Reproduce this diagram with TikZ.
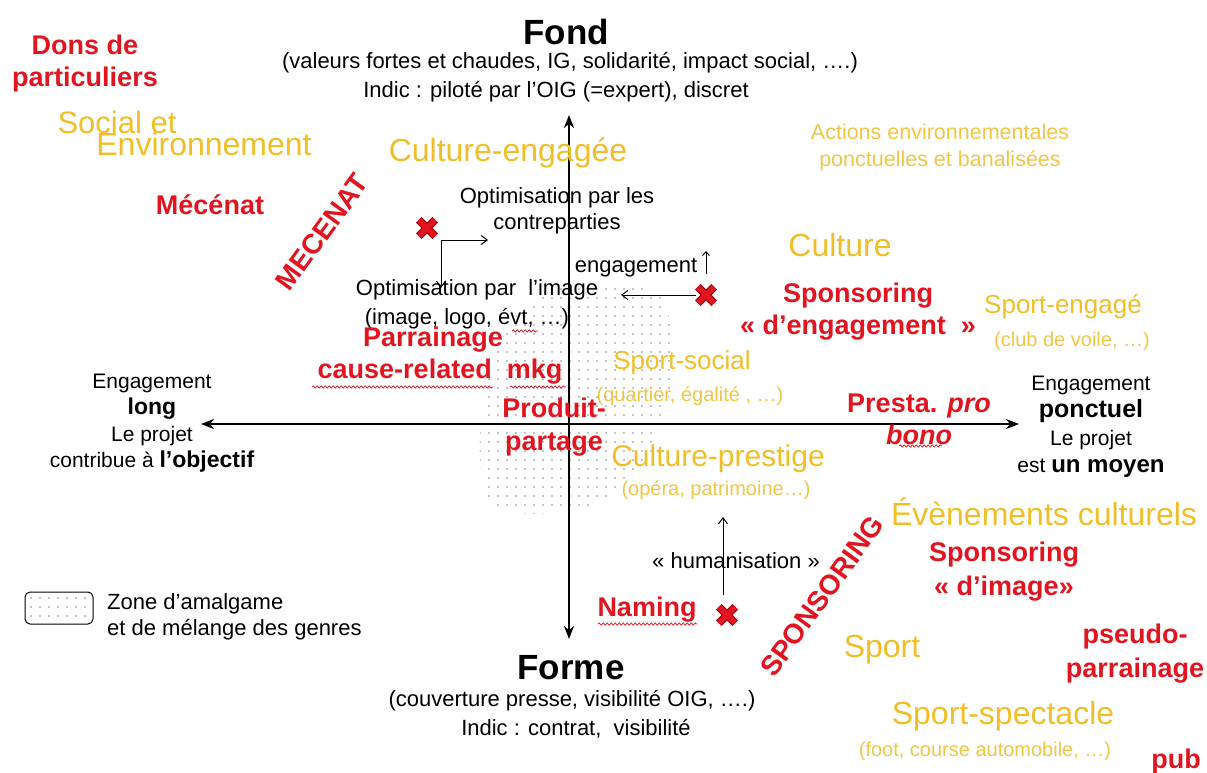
\documentclass[tikz,border=0pt]{standalone}
\usepackage{fontspec}
\setmainfont{Liberation Sans}
\usetikzlibrary{arrows.meta,decorations.pathmorphing}
\definecolor{rd}{RGB}{226,20,32}
\definecolor{xdark}{RGB}{160,10,20}
\definecolor{gd}{RGB}{240,190,40}
\definecolor{gdl}{RGB}{240,198,70}
\definecolor{dotc}{RGB}{135,135,135}
\begin{document}
\begin{tikzpicture}[x=1pt,y=-1pt,
  blk/.style={text=black, font=\fontsize{22}{26}\selectfont, align=center, inner sep=0pt},
  bigblk/.style={text=black, font=\bfseries\fontsize{35}{38}\selectfont, inner sep=0pt},
  rdt/.style={text=rd, font=\bfseries\fontsize{27}{32}\selectfont, align=center, inner sep=0pt},
  gdt/.style={text=gd, font=\fontsize{32}{36}\selectfont, inner sep=0pt},
  gdm/.style={text=gd, font=\fontsize{26}{30}\selectfont, inner sep=0pt},
  gds/.style={text=gdl, font=\fontsize{20}{27}\selectfont, align=center, inner sep=0pt},
  axis/.style={line width=2.6pt, {Stealth[length=13pt,width=10pt]}-{Stealth[length=13pt,width=10pt]}},
  thinarrow/.style={line width=1pt, -{Straight Barb[length=6pt,width=9pt]}},
  xbox/.style={rectangle, minimum size=16pt, inner sep=0pt},
  xout/.style={line width=8pt, xdark},
  xin/.style={line width=5.5pt, rd},
  wavy/.style={rd, line width=0.7pt, decorate, decoration={snake, amplitude=1.1pt, segment length=4pt}}
]
\useasboundingbox (0,0) rectangle (1207,773);

% ---- dotted zone
\begin{scope}
  \clip plot[smooth cycle] coordinates {(600,282) (662,298) (672,380) (645,462) (585,508) (492,506) (481,420) (505,330) (555,290)};
  \foreach \x in {480,489,...,680} {
    \foreach \y in {280,289,...,515} {
      \fill[dotc] (\x,\y) circle[radius=0.9];
    }
  }
\end{scope}

% ---- axes
\coordinate (vt) at (569,115);
\coordinate (vb) at (569,639);
\coordinate (hl) at (201,424);
\coordinate (hr) at (1019,424);
\draw[axis] (vb) -- (vt);
\draw[axis] (hl) -- (hr);

% ---- top / bottom titles
\node[bigblk] (fond) at (566,32) {Fond};
\node[blk] (fond1) at (570,63) {(valeurs fortes et chaudes, IG, solidarité, impact social, ….)};
\node[blk] (fond2) at (556,92) {Indic : piloté par l’OIG (=expert), discret};
\node[bigblk] (forme) at (571,668) {Forme};
\node[blk] (forme1) at (572,701) {(couverture presse, visibilité OIG, ….)};
\node[blk] (forme2) at (576,729) {Indic : contrat,\ \ visibilité};

% ---- side labels
\node[blk, font=\fontsize{21}{26.5}\selectfont] (left) at (152,423) {Engagement\\{\bfseries\fontsize{23}{26}\selectfont long}\\Le projet\\contribue à {\bfseries\fontsize{23}{26}\selectfont l’objectif}};
\node[blk, font=\fontsize{21}{27.5}\selectfont] (right) at (1091,427) {Engagement\\{\bfseries\fontsize{25}{27}\selectfont ponctuel}\\Le projet\\est {\bfseries\fontsize{24}{27}\selectfont un moyen}};

% ---- top-left quadrant
\node[rdt] (dons) at (85,64) {Dons de\\particuliers};
\node[gdt, font=\fontsize{31}{36}\selectfont] (soc) at (117,122) {Social et};
\node[gdt] (env) at (204,144) {Environnement};
\node[rdt] (mecenat) at (210,205) {Mécénat};
\node[rdt, font=\bfseries\fontsize{28}{32}\selectfont, rotate=54] (MEC) at (322,232) {MECENAT};
\node[gdt] (cengagee) at (508,153) {Culture-engagée};
\node[blk] (optc) at (557,211) {Optimisation par les\\contreparties};
\node[blk] (opti1) at (477,290) {Optimisation par\ \ l’image};
\node[blk] (opti2) at (467,319) {(image, logo, évt, …)};
\node[rdt] (parr) at (433,340) {Parrainage};
\node[rdt] (crm) at (440,372) {cause-related\ \ mkg};
\node[rdt, font=\bfseries\fontsize{27}{33}\selectfont] (prod) at (554,427) {Produit-\\partage};

% cross 1 with arrows
\node[xbox] (x1) at (427,228) {};
\draw[xout] (x1.north west) -- (x1.south east) (x1.north east) -- (x1.south west);
\draw[xin] (x1.north west) -- (x1.south east) (x1.north east) -- (x1.south west);
\coordinate (c1) at (441,240);
\coordinate (c1r) at (488,240);
\coordinate (c1d) at (441,288);
\draw[thinarrow] (c1) -- (c1r);
\draw[thinarrow] (c1) -- (c1d);

% ---- top-right quadrant
\node[gds, font=\fontsize{21.5}{27}\selectfont] (actions) at (940,147) {Actions environnementales\\ponctuelles et banalisées};
\node[gdt] (culture) at (840,245) {Culture};
\node[rdt] (spengage) at (858,312) {Sponsoring\\« d’engagement\ \ »};
\node[gdm] (sportengage) at (1063,307) {Sport-engagé};
\node[gds] (club) at (1072,341) {(club de voile, …)};
\node[blk] (engag) at (636,268) {engagement};
\node[xbox] (x2) at (706,295) {};
\draw[xout] (x2.north west) -- (x2.south east) (x2.north east) -- (x2.south west);
\draw[xin] (x2.north west) -- (x2.south east) (x2.north east) -- (x2.south west);
\coordinate (c2) at (696,295);
\coordinate (c2l) at (621,295);
\draw[thinarrow] (c2) -- (c2l);
\coordinate (u1) at (706,274);
\coordinate (u2) at (706,251);
\draw[line width=0.9pt, -{Straight Barb[length=4pt,width=7pt]}] (u1) -- (u2);
\node[gdm] (sportsocial) at (682,363) {Sport-social};
\node[gds] (quartier) at (690,396) {(quartier, égalité , …)};
\node[rdt] (presta) at (919,419) {Presta. \textit{pro}\\\textit{bono}};

% ---- bottom-right quadrant
\node[gdt, font=\fontsize{30}{34}\selectfont] (cprestige) at (718,459) {Culture-prestige};
\node[gds] (opera) at (716,490) {(opéra, patrimoine…)};
\node[gdt] (evts) at (1044,512) {Évènements culturels};
\node[rdt, font=\bfseries\fontsize{28}{32}\selectfont, rotate=54] (SPO) at (822,596) {SPONSORING};
\node[rdt, font=\bfseries\fontsize{27}{34}\selectfont] (spimage) at (1004,572) {Sponsoring\\« d’image»};
\node[blk] (human) at (736,561) {« humanisation »};
\coordinate (h1) at (723,595);
\coordinate (h2) at (723,517);
\draw[thinarrow] (h1) -- (h2);
\node[rdt] (naming) at (647,610) {Naming};
\node[xbox] (x3) at (727,615) {};
\draw[xout] (x3.north west) -- (x3.south east) (x3.north east) -- (x3.south west);
\draw[xin] (x3.north west) -- (x3.south east) (x3.north east) -- (x3.south west);
\node[gdt] (sport) at (882,650) {Sport};
\node[rdt, font=\bfseries\fontsize{27}{34}\selectfont] (pseudo) at (1135,654) {pseudo-\\parrainage};
\node[gdt] (spectacle) at (1003,716) {Sport-spectacle};
\node[gds] (foot) at (985,751) {(foot, course automobile, …)};
\node[rdt] (pub) at (1176,762) {pub};

% ---- legend
\begin{scope}
  \clip[rounded corners=5pt] (25,592) rectangle (93,624);
  \foreach \x in {31,40,...,90} {
    \foreach \y in {598,607,...,622} {
      \fill[dotc] (\x,\y) circle[radius=0.85];
    }
  }
\end{scope}
\draw[line width=1pt, rounded corners=5pt] (25,592) rectangle (93,624);
\node[blk, align=left, anchor=west] (legend) at (107,617) {Zone d’amalgame\\et de mélange des genres};

% ---- spell-check underlines
\coordinate (w1a) at (512,331); \coordinate (w1b) at (538,331);
\coordinate (w2a) at (312,387); \coordinate (w2b) at (493,387);
\coordinate (w3a) at (510,387); \coordinate (w3b) at (566,387);
\coordinate (w4a) at (899,446); \coordinate (w4b) at (942,446);
\coordinate (w5a) at (598,624); \coordinate (w5b) at (697,624);
\draw[wavy] (w1a) -- (w1b);
\draw[wavy] (w2a) -- (w2b);
\draw[wavy] (w3a) -- (w3b);
\draw[wavy] (w4a) -- (w4b);
\draw[wavy] (w5a) -- (w5b);
\end{tikzpicture}
\end{document}
